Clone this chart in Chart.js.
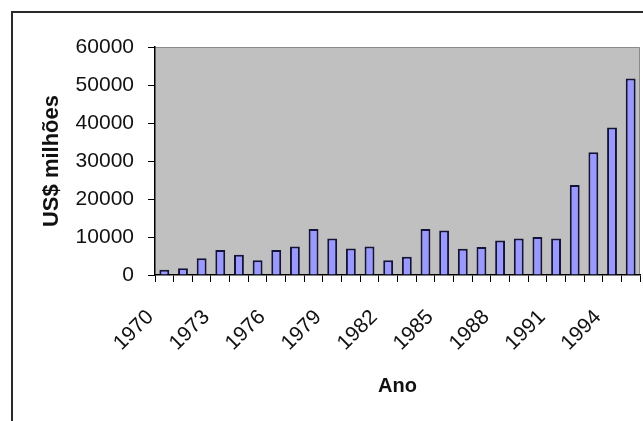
<!DOCTYPE html>
<html>
<head>
<meta charset="utf-8">
<script src="https://cdn.jsdelivr.net/npm/chart.js@4.4.0/dist/chart.umd.min.js"></script>
<style>
  html, body { margin: 0; padding: 0; background: #fff; }
  canvas { display: block; }
</style>
</head>
<body>
<canvas id="chart" width="643" height="421"></canvas>
<script>
// Years on the x axis (one bar per year)
const years = ['1970', '1971', '1972', '1973', '1974', '1975', '1976', '1977', '1978',
  '1979', '1980', '1981', '1982', '1983', '1984', '1985', '1986', '1987', '1988',
  '1989', '1990', '1991', '1992', '1993', '1994', '1995'];

// Values in US$ millions
const values = [1400, 1800, 4400, 6600, 5300, 3900, 6600, 7500, 12100, 9600, 7000,
  7500, 3900, 4800, 12100, 11700, 6900, 7400, 9100, 9600, 10000, 9600, 23700,
  32300, 38800, 51700];

const yTicks = [0, 10000, 20000, 30000, 40000, 50000, 60000];
const labelEvery = 3;

// white page, outer frame and grey plot area
const backdrop = {
  id: 'backdrop',
  beforeDraw(chart) {
    const ctx = chart.ctx;
    const a = chart.chartArea;
    ctx.save();
    ctx.fillStyle = '#fff';
    ctx.fillRect(0, 0, chart.width, chart.height);
    ctx.strokeStyle = '#2a2a2a';
    ctx.lineWidth = 2;
    ctx.strokeRect(12, 12, chart.width + 20, chart.height + 20);
    ctx.fillStyle = '#c0c0c0';
    ctx.fillRect(a.left, a.top, a.right - a.left, a.bottom - a.top);
    ctx.strokeStyle = '#8a8a8a';
    ctx.lineWidth = 1;
    ctx.beginPath();
    ctx.moveTo(a.left, a.top + 0.5);
    ctx.lineTo(a.right - 0.5, a.top + 0.5);
    ctx.lineTo(a.right - 0.5, a.bottom);
    ctx.stroke();
    ctx.restore();
  }
};

const font = 'Liberation Sans, Arial, sans-serif';

new Chart(document.getElementById('chart'), {
  type: 'bar',
  data: {
    labels: years,
    datasets: [{
      data: values,
      backgroundColor: '#9999ff',
      borderColor: '#14143a',
      borderWidth: 2,
      barPercentage: 0.53,
      categoryPercentage: 1
    }]
  },
  options: {
    responsive: false,
    animation: false,
    devicePixelRatio: 1,
    layout: { padding: { left: 0, top: 47, right: 3, bottom: 0 } },
    plugins: {
      legend: { display: false },
      tooltip: { enabled: false }
    },
    scales: {
      x: {
        afterFit(scale) {
          scale.height = 146;
          scale.paddingLeft = 0;
          scale.paddingRight = 0;
        },
        grid: { display: true, drawOnChartArea: false, offset: true, tickLength: 7, color: '#000', lineWidth: 1 },
        border: { color: '#000', width: 1.5 },
        ticks: {
          autoSkip: false,
          minRotation: 45,
          maxRotation: 45,
          padding: 23,
          labelOffset: -14,
          color: '#111',
          font: { family: font, size: 21 },
          callback: (v, i) => (i % labelEvery === 0 ? years[i] : '')
        },
        title: {
          display: true,
          text: 'Ano',
          color: '#111',
          font: { family: font, size: 20, weight: 'bold' },
          padding: { top: 0, bottom: 23 }
        }
      },
      y: {
        min: 0,
        max: 60000,
        afterFit(scale) {
          scale.width = 155;
          scale.paddingTop = 0;
          scale.paddingBottom = 0;
        },
        afterBuildTicks(scale) { scale.ticks = yTicks.map(v => ({ value: v })); },
        grid: { display: true, drawOnChartArea: false, tickLength: 7, color: '#000', lineWidth: 1 },
        border: { color: '#000', width: 1.5 },
        ticks: {
          padding: 14,
          color: '#111',
          font: { family: font, size: 21 },
          callback: v => String(v)
        },
        title: {
          display: true,
          text: 'US$ milhões',
          color: '#111',
          font: { family: font, size: 22, weight: 'bold' },
          padding: { top: 39, bottom: 0 }
        }
      }
    }
  },
  plugins: [backdrop]
});
</script>
</body>
</html>
